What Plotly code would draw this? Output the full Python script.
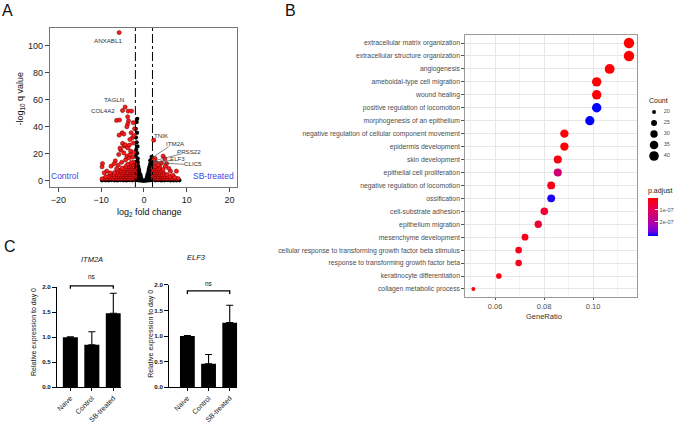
import math
import plotly.graph_objects as go

W, H = 676, 424
FONT = "Liberation Sans, Arial, sans-serif"

# ---------------- Panel A : volcano plot data ----------------
red_scatter_left_x = [-5.8, -4.4, -5.0, -3.7, -2.9, -6.4, -5.7, -3.8, -3.6, -3.8,
                      -5.1, -4.7, -5.8, -4.0, -3.0, -2.7, -3.3, -2.5, -5.0, -4.6,
                      -5.4, -4.7, -3.8, -3.1, -4.0, -2.6, -5.9, -6.7, -7.7, -9.7,
                      -9.8, -8.7, -7.9, -9.3, -6.0, -5.2, -3.4, -2.4, -4.3, -2.2,
                      -2.5, -2.3, -3.5, -6.4, -7.0, -5.6, -4.4, -3.3]
red_scatter_left_y = [109.6, 54.6, 52.0, 51.6, 51.6, 44.7, 45.0, 47.4, 44.4, 42.0,
                      35.6, 34.6, 33.8, 40.0, 35.6, 31.9, 30.6, 28.0, 27.7, 25.7,
                      22.7, 20.7, 24.4, 22.0, 18.3, 17.5, 19.5, 14.8, 10.9, 12.8,
                      10.4, 7.2, 5.9, 5.9, 11.6, 13.8, 26.5, 21.0, 15.5, 38.5,
                      43.0, 33.5, 17.0, 9.0, 12.6, 24.2, 26.7, 19.3]
red_dense_left_x = [-2.2, -2.6, -3.0, -3.4, -3.8, -4.2, -4.6, -5.0, -5.4, -5.8, -6.2, -6.6, -7.0, -7.5, -8.0, -8.6,
                    -9.2, -9.8,
                    -2.1, -2.5, -2.9, -3.3, -3.7, -4.1, -4.5, -4.9, -5.3, -5.7, -6.1, -6.6, -7.1, -7.7, -8.3,
                    -8.9,
                    -2.2, -2.6, -3.0, -3.4, -3.8, -4.2, -4.6, -5.0, -5.5, -6.0, -6.5, -7.1, -7.8,
                    -2.1, -2.5, -2.9, -3.3, -3.7, -4.1, -4.6, -5.1, -5.6, -6.2, -6.9,
                    -2.2, -2.6, -3.0, -3.4, -3.9, -4.4, -4.9, -5.5, -6.1,
                    -2.1, -2.5, -2.9, -3.4, -3.9, -4.5, -5.1,
                    -2.2, -2.6, -3.1, -3.6, -4.2,
                    -2.1, -2.6, -3.2, -3.8,
                    -2.3, -2.9]
red_dense_left_y = [1.7, 1.9, 1.6, 1.8, 2.0, 1.7, 1.8, 1.9, 1.6, 1.8, 1.7, 1.9, 1.8, 1.6, 1.9, 1.7,
                    1.8, 1.6,
                    3.2, 3.4, 3.3, 3.1, 3.5, 3.3, 3.2, 3.4, 3.3, 3.2, 3.5, 3.3, 3.1, 3.4, 3.2,
                    3.0,
                    4.8, 4.6, 4.9, 4.7, 5.0, 4.8, 4.7, 4.9, 4.8, 4.6, 5.0, 4.7, 4.9,
                    6.3, 6.5, 6.2, 6.4, 6.3, 6.1, 6.4, 6.2, 6.5, 6.3, 6.1,
                    7.8, 7.6, 7.9, 7.7, 8.0, 7.8, 7.6, 7.9, 7.7,
                    9.3, 9.5, 9.2, 9.4, 9.3, 9.1, 9.4,
                    10.8, 10.6, 10.9, 10.7, 10.8,
                    12.3, 12.1, 12.4, 12.2,
                    13.6, 13.8]
red_dense_right_x = [2.2, 2.6, 3.0, 3.4, 3.8, 4.2, 4.6, 5.0, 5.5, 6.0, 6.5, 7.0, 7.5, 8.0,
                     2.1, 2.5, 2.9, 3.3, 3.7, 4.1, 4.5, 5.0, 5.5, 6.1,
                     2.2, 2.6, 3.0, 3.4, 3.8, 4.3, 4.8, 5.4,
                     2.1, 2.5, 2.9, 3.3, 3.8, 4.4,
                     2.2, 2.6, 3.0, 3.5, 4.1,
                     2.1, 2.5, 3.0, 3.6,
                     2.3, 2.8]
red_dense_right_y = [1.8, 1.6, 1.9, 1.7, 1.8, 2.0, 1.7, 1.8, 1.6, 1.9, 1.7, 1.8, 1.6, 1.7,
                     3.3, 3.1, 3.4, 3.2, 3.5, 3.3, 3.2, 3.4, 3.1, 3.3,
                     4.8, 4.9, 4.7, 5.0, 4.8, 4.6, 4.9, 4.7,
                     6.3, 6.1, 6.4, 6.2, 6.3, 6.5,
                     7.8, 7.9, 7.6, 7.8, 7.7,
                     9.3, 9.1, 9.4, 9.2,
                     10.6, 10.8]
red_scatter_right_x = [2.3, 2.6, 2.3, 2.9, 4.5, 4.9, 4.1, 5.3, 6.2, 7.6, 3.7, 5.0, 4.5, 3.3, 5.8, 6.8, 7.2]
red_scatter_right_y = [30.1, 16.5, 15.3, 13.3, 18.3, 16.3, 13.3, 12.8, 7.2, 7.2, 10.9, 10.9, 8.4, 12.0, 9.3, 4.2, 2.5]

black_x = [-9.8, -9.0, -8.3, -7.6, -6.9, -6.2, -5.5, -4.8, -4.1, -3.4, -2.7, -2.0, -1.6, -1.2, -0.8, -0.4, 0.0, 0.4,
           0.8, 1.2, 1.6, 2.0, 2.7, 3.4, 4.1, 4.8, 5.5, 6.2, 6.9, 7.6, 8.3,
           -1.9, -1.55, -1.2, -0.85, -0.5, 0.5, 0.85, 1.2, 1.55, 1.9,
           -1.9, -1.6, -1.3, -1.0, -0.7, 0.7, 1.0, 1.3, 1.6, 1.9,
           -1.9, -1.6, -1.3, -1.0, -0.8, 0.8, 1.05, 1.3, 1.6, 1.9,
           -1.95, -1.65, -1.35, -1.05, 1.0, 1.3, 1.6, 1.9,
           -1.9, -1.6, -1.3, -1.1, 1.1, 1.35, 1.65, 1.95,
           -1.85, -1.55, -1.25, 1.2, 1.5, 1.8,
           -1.9, -1.6, -1.35, 1.35, 1.65, 1.9,
           -1.8, -1.5, 1.45, 1.8,
           -1.75, -1.45, 1.6, 1.9,
           -1.55, -1.7, -1.9, -1.6, -1.85, -1.7, -1.5, -1.8, -1.6, -1.9, -1.45, 1.8, 1.5, 1.9]
black_y = [0.3, 0.4, 0.3, 0.5, 0.4, 0.3, 0.5, 0.4, 0.3, 0.5, 0.4, 0.6, 0.5, 0.4, 0.3, 0.2, 0.1, 0.2,
           0.3, 0.4, 0.5, 0.6, 0.4, 0.5, 0.3, 0.4, 0.5, 0.3, 0.4, 0.3, 0.4,
           1.6, 1.5, 1.7, 1.4, 1.2, 1.2, 1.4, 1.6, 1.5, 1.7,
           3.0, 3.1, 2.9, 3.0, 2.8, 2.8, 3.0, 3.1, 2.9, 3.0,
           4.6, 4.5, 4.7, 4.6, 4.4, 4.4, 4.6, 4.7, 4.5, 4.6,
           6.2, 6.3, 6.1, 6.0, 6.0, 6.2, 6.3, 6.1,
           7.8, 7.7, 7.9, 7.6, 7.6, 7.8, 7.9, 7.7,
           9.4, 9.5, 9.3, 9.3, 9.5, 9.4,
           11.0, 11.1, 10.9, 10.9, 11.1, 11.0,
           12.6, 12.7, 12.5, 12.6,
           14.2, 14.0, 14.1, 14.3,
           45.9, 43.5, 38.5, 35.5, 32.0, 28.5, 25.5, 23.0, 20.5, 18.2, 16.5, 17.8, 15.2, 15.8]

fc_cutoff = 2
gene_names = ["ANXABL1", "TAGLN", "COL4A2", "TNIK", "ITM2A", "PRSS22", "ELF3", "CLIC5"]
gene_label_x = [-8.5, -7.0, -9.5, 4.0, 7.3, 10.6, 7.9, 11.4]
gene_label_y = [103.5, 59.8, 52.3, 33.8, 27.7, 22.0, 16.3, 12.8]
leader_from_x = [5.8, 8.8, 6.4, 9.5]
leader_from_y = [25.4, 20.0, 15.1, 12.3]
leader_to_x = [1.8, 2.3, 2.6, 2.9]
leader_to_y = [16.8, 14.8, 14.1, 13.3]

# ---------------- Panel B : GO enrichment dot plot ----------------
go_terms = ["extracellular matrix organization", "extracellular structure organization",
            "angiogenesis", "ameboidal-type cell migration", "wound healing",
            "positive regulation of locomotion", "morphogenesis of an epithelium",
            "negative regulation of cellular component movement", "epidermis development",
            "skin development", "epithelial cell proliferation", "negative regulation of locomotion",
            "ossification", "cell-substrate adhesion", "epithelium migration",
            "mesenchyme development",
            "cellular response to transforming growth factor beta stimulus",
            "response to transforming growth factor beta", "keratinocyte differentiation",
            "collagen metabolic process"]
gene_ratio = [0.1147, 0.1147, 0.1068, 0.1015, 0.1015, 0.1015, 0.0987, 0.0883, 0.0883, 0.0856,
              0.0856, 0.0829, 0.0829, 0.0801, 0.0776, 0.0722, 0.0696, 0.0696, 0.0615, 0.0511]
go_count = [44, 44, 41, 39, 39, 39, 38, 34, 34, 33, 33, 32, 32, 31, 30, 28, 27, 27, 24, 20]
p_adjust = [1e-10, 1e-10, 5e-9, 5e-9, 6e-9, 3.2e-7, 3.2e-7, 8e-9, 8e-9, 1.5e-8,
            1.35e-7, 2.5e-8, 3.1e-7, 5e-8, 5.5e-8, 2.5e-8, 3e-8, 3e-8, 2e-8, 1e-8]
count_legend = [20, 25, 30, 35, 40]
p_ticks = [1e-7, 2e-7]
p_ticktext = ["1e-07", "2e-07"]

# ---------------- Panel C : qPCR bars ----------------
groups = ["Naive", "Control", "SB-treated"]
itm2a_mean = [1.00, 0.85, 1.48]
itm2a_err = [0.01, 0.26, 0.40]
elf3_mean = [1.00, 0.46, 1.26]
elf3_err = [0.01, 0.18, 0.34]
bracket_level = {"ITM2A": 2.03, "ELF3": 1.88}
bracket_drop = 0.06
ns_gap = {"ITM2A": 0.19, "ELF3": 0.14}


def dom_x(a, b):
    return [a / W, b / W]


def dom_y(top, bottom):
    return [1 - bottom / H, 1 - top / H]


def P(x, y):
    return x / W, 1 - y / H


def dot_size(c, cmin=20, cmax=44, smin=4.0, smax=10.4):
    return math.sqrt(smin ** 2 + (c - cmin) / (cmax - cmin) * (smax ** 2 - smin ** 2))


# bar-panel geometry
Y3_DOM = dom_y(287.3, 387.3)
Y4_DOM = dom_y(284.7, 387.3)
BAR_YRANGE = [0, 2.0]


def y_to_paper(v, dom, rng):
    return dom[0] + (v - rng[0]) / (rng[1] - rng[0]) * (dom[1] - dom[0])


fig = go.Figure()

# ---- volcano traces
fig.add_trace(go.Scatter(
    x=black_x, y=black_y, mode="markers", xaxis="x", yaxis="y",
    marker=dict(color="black", size=4.2, opacity=1, line=dict(width=0)), showlegend=False, hoverinfo="skip"))
fig.add_trace(go.Scatter(
    x=red_dense_left_x + red_dense_right_x + red_scatter_left_x + red_scatter_right_x,
    y=red_dense_left_y + red_dense_right_y + red_scatter_left_y + red_scatter_right_y,
    mode="markers", xaxis="x", yaxis="y",
    marker=dict(color="#ff1a1a", size=4.2, opacity=1, line=dict(width=0.5, color="#5a0000")),
    showlegend=False, hoverinfo="skip"))
lx, ly = [], []
for a, b, c, d in zip(leader_from_x, leader_from_y, leader_to_x, leader_to_y):
    lx += [a, c, None]
    ly += [b, d, None]
fig.add_trace(go.Scatter(x=lx, y=ly, mode="lines", xaxis="x", yaxis="y",
                         line=dict(color="#555", width=0.7), showlegend=False, hoverinfo="skip"))

# ---- GO dot plot
fig.add_trace(go.Scatter(
    x=gene_ratio, y=go_terms, mode="markers", xaxis="x2", yaxis="y2",
    marker=dict(size=[dot_size(c) for c in go_count], opacity=1,
                color=[-p for p in p_adjust],
                cmin=-3.2e-7, cmax=0,
                colorscale=[[0, "#0000FF"], [0.1, "#6500E3"], [0.25, "#9B00BE"],
                            [0.5, "#C70082"], [0.75, "#E8004B"], [1, "#FF0000"]],
                line=dict(width=0), showscale=True,
                colorbar=dict(x=648 / W, xanchor="left", y=1 - 185 / H, yanchor="top",
                              len=51, lenmode="pixels", thickness=10, thicknessmode="pixels",
                              outlinewidth=0, ticks="inside", ticklen=3, tickcolor="white",
                              tickvals=[-v for v in p_ticks], ticktext=p_ticktext,
                              tickfont=dict(size=5.5, color="#4d4d4d", family=FONT),
                              title=dict(text="p.adjust", side="top",
                                         font=dict(size=7, color="#222", family=FONT)),
                              xpad=0, ypad=0)),
    showlegend=False, hoverinfo="skip"))

# size legend
fig.add_trace(go.Scatter(
    x=[0.25] * len(count_legend), y=count_legend, mode="markers", xaxis="x5", yaxis="y5",
    marker=dict(color="black", opacity=1, size=[dot_size(c) for c in count_legend], line=dict(width=0)),
    showlegend=False, hoverinfo="skip"))
fig.add_trace(go.Scatter(
    x=[0.6] * len(count_legend), y=count_legend, mode="text", xaxis="x5", yaxis="y5",
    text=[str(c) for c in count_legend], textposition="middle right",
    textfont=dict(size=5.5, color="#4d4d4d", family=FONT), showlegend=False, hoverinfo="skip"))

# ---- bar charts
for means, errs, xa, ya in [(itm2a_mean, itm2a_err, "x3", "y3"), (elf3_mean, elf3_err, "x4", "y4")]:
    fig.add_trace(go.Bar(
        x=groups, y=means, xaxis=xa, yaxis=ya, width=0.7,
        marker=dict(color="black", line=dict(width=0)),
        error_y=dict(type="data", symmetric=False, array=errs, arrayminus=[0] * len(errs),
                     color="black", thickness=1.1, width=3.5),
        showlegend=False, hoverinfo="skip"))

axis_font = dict(family=FONT, size=9, color="#222")
bar_xfont = dict(family=FONT, size=7, color="#111")
bar_yfont = dict(family=FONT, size=6.2, color="#111", weight="bold")

fig.update_layout(
    width=W, height=H, margin=dict(l=0, r=0, t=0, b=0),
    paper_bgcolor="white", plot_bgcolor="white",
    font=dict(family=FONT, color="#222"),
    xaxis=dict(domain=dom_x(50, 237), range=[-22, 21.7], tickvals=[-20, -10, 0, 10, 20],
               ticks="outside", ticklen=4, tickcolor="#444", showline=True, mirror=True,
               linecolor="#777", linewidth=1, showgrid=False, zeroline=False,
               tickfont=axis_font, anchor="y", automargin=False),
    yaxis=dict(domain=dom_y(28, 187), range=[-4.5, 113], tickvals=[0, 20, 40, 60, 80, 100],
               ticks="outside", ticklen=4, tickcolor="#444", showline=True, mirror=True,
               linecolor="#777", linewidth=1, showgrid=False, zeroline=False,
               tickfont=axis_font, anchor="x", automargin=False),
    xaxis2=dict(domain=dom_x(466, 638), range=[0.0478, 0.118], tickvals=[0.06, 0.08, 0.10],
                ticktext=["0.06", "0.08", "0.10"], ticks="outside", ticklen=2, tickcolor="#555",
                showline=True, mirror=True, linecolor="#9a9a9a", linewidth=1,
                showgrid=True, gridcolor="#e6e6e6", gridwidth=0.8, zeroline=False,
                minor=dict(tickvals=[0.05, 0.07, 0.09, 0.11], showgrid=True, gridcolor="#f3f3f3",
                           gridwidth=0.6, ticks=""),
                tickfont=dict(family=FONT, size=7.5, color="#4d4d4d"), anchor="y2", automargin=False),
    yaxis2=dict(domain=dom_y(35, 297), type="category", categoryorder="array", categoryarray=go_terms,
                range=[len(go_terms) - 1 + 0.62, -0.62], ticks="outside", ticklen=3, tickcolor="#555",
                showline=True, mirror=True, linecolor="#9a9a9a", linewidth=1,
                showgrid=True, gridcolor="#e6e6e6", gridwidth=0.8, zeroline=False,
                tickfont=dict(family=FONT, size=6.8, color="#4d4d4d"), anchor="x2", automargin=False),
    xaxis3=dict(domain=dom_x(56.7, 121), type="category", range=[-0.64, 2.35],
                showline=True, linecolor="black", linewidth=1.2, ticks="outside", ticklen=3,
                tickwidth=1.1, tickcolor="black", tickangle=-45, showgrid=False, zeroline=False,
                tickfont=bar_xfont, anchor="y3", automargin=False),
    yaxis3=dict(domain=Y3_DOM, range=BAR_YRANGE, tickvals=[0, 0.5, 1.0, 1.5, 2.0],
                tickformat=".1f", showline=True, linecolor="black", linewidth=1.2, ticks="outside",
                ticklen=3.5, tickwidth=1.1, tickcolor="black", showgrid=False, zeroline=False,
                tickfont=bar_yfont, anchor="x3", automargin=False),
    xaxis4=dict(domain=dom_x(169, 237.7), type="category", range=[-0.88, 2.36],
                showline=True, linecolor="black", linewidth=1.2, ticks="outside", ticklen=3,
                tickwidth=1.1, tickcolor="black", tickangle=-45, showgrid=False, zeroline=False,
                tickfont=bar_xfont, anchor="y4", automargin=False),
    yaxis4=dict(domain=Y4_DOM, range=BAR_YRANGE, tickvals=[0, 0.5, 1.0, 1.5, 2.0],
                tickformat=".1f", showline=True, linecolor="black", linewidth=1.2, ticks="outside",
                ticklen=3.5, tickwidth=1.1, tickcolor="black", showgrid=False, zeroline=False,
                tickfont=bar_yfont, anchor="x4", automargin=False),
    xaxis5=dict(domain=dom_x(648, 676), range=[0, 1], visible=False, anchor="y5"),
    yaxis5=dict(domain=dom_y(100, 165), range=[44.09, 14.55], visible=False, anchor="x5"),
)

# dash-dot fold-change cutoffs
for v in (-fc_cutoff, fc_cutoff):
    fig.add_shape(type="line", xref="x", yref="y domain", x0=v, x1=v, y0=0, y1=1,
                  line=dict(color="black", width=1, dash="dashdot"))

ann = []


def pa(text, x, y, size, color="#111", angle=0, xanchor="center", **kw):
    px_, py_ = P(x, y)
    ann.append(dict(text=text, x=px_, y=py_, xref="paper", yref="paper", showarrow=False,
                    xanchor=xanchor, yanchor="middle", textangle=angle,
                    font=dict(family=FONT, size=size, color=color), **kw))


pa("A", 8, 11, 16)
pa("B", 291, 10, 16)
pa("C", 10, 246, 16)
pa("-log<sub>10</sub> q value", 20.5, 98, 9, angle=-90)
pa("log<sub>2</sub> fold change", 150, 212, 9)
pa("GeneRatio", 545, 316, 7.5, color="#333")
pa("Count", 648, 101, 7, color="#222", xanchor="left")
pa("<i>ITM2A</i>", 92, 259, 7.5)
pa("<i>ELF3</i>", 197, 257, 7.5)
pa("Relative expression to day 0", 34, 332, 7, angle=-90)
pa("Relative expression to day 0", 151, 334, 7, angle=-90)

for name, gx, gy in zip(gene_names, gene_label_x, gene_label_y):
    ann.append(dict(text=name, x=gx, y=gy, xref="x", yref="y", showarrow=False,
                    font=dict(family=FONT, size=6.2, color="#333")))
ann.append(dict(text="Control", x=-18.4, y=4.0, xref="x", yref="y", showarrow=False,
                font=dict(family=FONT, size=8.5, color="#3b47e8")))
ann.append(dict(text="SB-treated", x=16.3, y=4.0, xref="x", yref="y", showarrow=False,
                font=dict(family=FONT, size=8.5, color="#3b47e8")))

# significance brackets: x on the category axis, y mapped to paper so they may sit above the axis top
for gene, xa, dom in [("ITM2A", "x3", Y3_DOM), ("ELF3", "x4", Y4_DOM)]:
    lvl = bracket_level[gene]
    y_hi = y_to_paper(lvl, dom, BAR_YRANGE)
    y_lo = y_to_paper(lvl - bracket_drop, dom, BAR_YRANGE)
    i0, i1 = 0, len(groups) - 1
    fig.add_shape(type="path", xref=xa, yref="paper",
                  path=f"M {i0},{y_lo} L {i0},{y_hi} L {i1},{y_hi} L {i1},{y_lo}",
                  line=dict(color="black", width=1.3))
    ann.append(dict(text="ns", x=1, y=y_to_paper(lvl + ns_gap[gene], dom, BAR_YRANGE),
                    xref=xa, yref="paper", showarrow=False, yanchor="middle",
                    font=dict(family=FONT, size=6.5, color="#111")))

fig.update_layout(annotations=ann)

fig.write_html("out.html", config={"displayModeBar": False},
               post_script="document.body.style.margin='0px';")
